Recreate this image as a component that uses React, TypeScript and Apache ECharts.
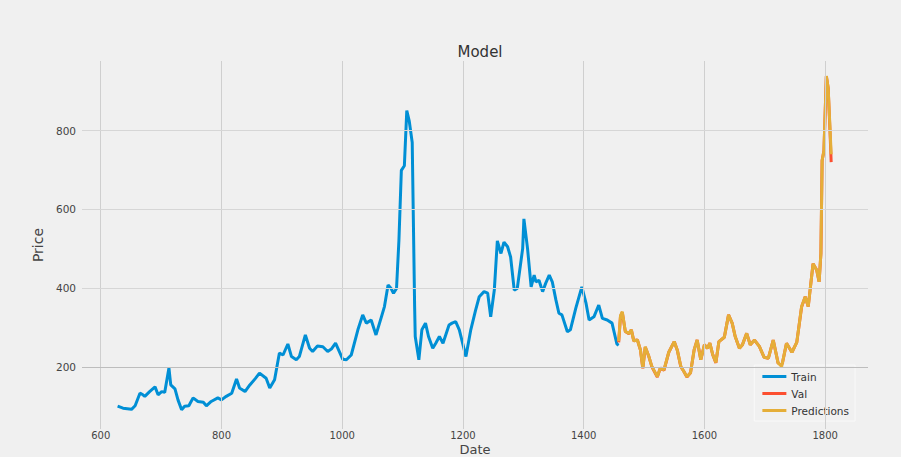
import React, { useEffect, useRef } from "react";
import * as echarts from "echarts";

const trainX = [628, 637, 651, 657, 665, 670, 673, 681, 690, 695, 701, 706, 713, 716, 723, 728, 734, 739, 746, 753, 761, 770, 775, 783, 794, 800, 808, 817, 825, 830, 839, 847, 856, 863, 874, 880, 888, 896, 902, 910, 916, 924, 929, 939, 946, 951, 959, 968, 976, 982, 989, 994, 1001, 1007, 1015, 1026, 1034, 1040, 1048, 1056, 1065, 1070, 1076, 1081, 1085, 1090, 1094, 1098, 1103, 1107, 1111, 1116, 1120, 1121, 1127, 1132, 1138, 1143, 1150, 1155, 1161, 1167, 1177, 1182, 1188, 1194, 1205, 1213, 1221, 1227, 1235, 1241, 1246, 1252, 1257, 1263, 1268, 1274, 1279, 1285, 1290, 1299, 1301, 1307, 1313, 1318, 1321, 1326, 1332, 1337, 1343, 1348, 1354, 1359, 1364, 1373, 1378, 1387, 1397, 1404, 1409, 1417, 1425, 1431, 1439, 1447, 1455, 1458];
const trainY = [100, 95, 92, 101, 133, 129, 125, 137, 149, 129, 137, 135, 197, 154, 144, 116, 91, 100, 101, 121, 112, 110, 101, 112, 121, 116, 125, 133, 169, 146, 137, 154, 170, 184, 171, 146, 167, 235, 230, 258, 226, 218, 226, 281, 247, 239, 253, 251, 239, 245, 260, 243, 219, 218, 230, 294, 332, 311, 319, 281, 327, 353, 408, 399, 387, 399, 522, 699, 711, 851, 825, 770, 353, 277, 218, 294, 311, 277, 247, 260, 277, 260, 306, 311, 315, 294, 226, 294, 344, 378, 391, 387, 327, 395, 520, 488, 517, 505, 479, 395, 399, 501, 576, 501, 403, 433, 416, 420, 391, 412, 433, 416, 370, 336, 332, 289, 294, 349, 403, 361, 319, 327, 357, 323, 319, 311, 258, 255];

const validX = [1458, 1461, 1464, 1469, 1475, 1479, 1483, 1489, 1494, 1498, 1502, 1508, 1513, 1522, 1527, 1533, 1541, 1550, 1555, 1561, 1566, 1571, 1577, 1583, 1588, 1594, 1600, 1605, 1609, 1614, 1619, 1624, 1633, 1640, 1646, 1651, 1658, 1663, 1670, 1676, 1683, 1691, 1699, 1706, 1714, 1722, 1728, 1736, 1745, 1753, 1761, 1767, 1772, 1780, 1786, 1790, 1793, 1795, 1798, 1802, 1805, 1808, 1810];
const valY = [262, 328, 338, 290, 284, 294, 266, 268, 243, 196, 250, 226, 200, 174, 197, 191, 237, 264, 243, 200, 188, 174, 185, 243, 268, 218, 256, 247, 260, 230, 210, 264, 275, 332, 311, 277, 247, 256, 285, 256, 268, 252, 224, 222, 268, 210, 200, 260, 237, 262, 352, 378, 353, 462, 446, 416, 488, 724, 749, 938, 908, 800, 720];
const predY = [265, 330, 340, 290, 285, 294, 266, 268, 243, 197, 251, 226, 201, 175, 197, 192, 237, 264, 243, 201, 188, 175, 185, 243, 268, 218, 256, 247, 260, 230, 211, 264, 275, 332, 311, 277, 247, 256, 285, 256, 268, 252, 224, 222, 268, 210, 201, 260, 237, 262, 353, 378, 353, 462, 446, 416, 488, 724, 749, 939, 910, 808, 740];

const xTicks = [600, 800, 1000, 1200, 1400, 1600, 1800];
const yTicks = [200, 400, 600, 800];
const xRange = [569, 1871];
const yRange = [42, 977];

const FONT = "DejaVu Sans";
const TEXT = "#444444";

export default function App() {
  const ref = useRef<HTMLDivElement>(null);
  useEffect(() => {
    document.body.style.margin = "0";
    const chart = echarts.init(ref.current!, null, { renderer: "svg" });
    const gridLines = [
      ...xTicks.map((v) => ({ xAxis: v, lineStyle: { color: "#cfcfcf" } })),
      ...yTicks.map((v) => ({ yAxis: v, lineStyle: { color: v === 200 ? "#bdbdbd" : "#d6d6d6" } })),
    ];
    const toPairs = (xs: number[], ys: number[]) => xs.map((x, i) => [x, ys[i]]);
    chart.setOption({
      animation: false,
      backgroundColor: "#f0f0f0",
      textStyle: { fontFamily: FONT },
      title: {
        text: "Model",
        left: 475,
        textAlign: "center",
        top: 39,
        textStyle: { fontFamily: FONT, fontSize: 15, fontWeight: "normal", color: "#333" },
      },
      grid: { left: 82, right: 33, top: 61, bottom: 28, outerBoundsMode: "none", containLabel: false },
      legend: {
        data: ["Train", "Val", "Predictions"],
        orient: "vertical",
        right: 46,
        bottom: 36,
        icon: "rect",
        itemWidth: 24,
        itemHeight: 3,
        itemGap: 6,
        padding: [6, 6, 5, 8],
        backgroundColor: "#f0f0f0",
        borderColor: "#f9f9f9",
        borderWidth: 1,
        textStyle: { fontFamily: FONT, fontSize: 10.5, color: "#333" },
      },
      xAxis: {
        type: "value",
        min: xRange[0],
        max: xRange[1],
        name: "Date",
        nameLocation: "middle",
        nameGap: 13,
        nameMoveOverlap: false,
        nameTextStyle: { fontFamily: FONT, fontSize: 13, color: TEXT, lineHeight: 14 },
        axisLine: { show: false },
        axisTick: { show: false },
        splitLine: { show: false },
        axisLabel: {
          customValues: xTicks,
          fontFamily: FONT,
          fontSize: 10,
          lineHeight: 11,
          color: TEXT,
          margin: 1,
          formatter: (v: number) => String(v),
        },
      },
      yAxis: {
        type: "value",
        min: yRange[0],
        max: yRange[1],
        name: "Price",
        nameLocation: "middle",
        nameGap: 37,
        nameMoveOverlap: false,
        nameTextStyle: { fontFamily: FONT, fontSize: 14, color: TEXT },
        axisLine: { show: false },
        axisTick: { show: false },
        splitLine: { show: false },
        axisLabel: {
          customValues: yTicks,
          fontFamily: FONT,
          fontSize: 10.5,
          color: TEXT,
          margin: 6,
          formatter: (v: number) => String(v),
        },
      },
      series: [
        {
          name: "grid",
          type: "line",
          data: [],
          z: 0,
          silent: true,
          markLine: {
            silent: true,
            symbol: "none",
            label: { show: false },
            lineStyle: { type: "solid", width: 1 },
            data: gridLines,
          },
        },
        {
          name: "Train",
          type: "line",
          data: toPairs(trainX, trainY),
          showSymbol: false,
          z: 2,
          itemStyle: { color: "#008fd5" },
          lineStyle: { color: "#008fd5", width: 3 },
        },
        {
          name: "Val",
          type: "line",
          data: toPairs(validX, valY),
          showSymbol: false,
          z: 3,
          itemStyle: { color: "#fc4f30" },
          lineStyle: { color: "#fc4f30", width: 3 },
        },
        {
          name: "Predictions",
          type: "line",
          data: toPairs(validX, predY),
          showSymbol: false,
          z: 4,
          itemStyle: { color: "#e5ae38" },
          lineStyle: { color: "#e5ae38", width: 3 },
        },
      ],
    });
    return () => chart.dispose();
  }, []);
  return <div ref={ref} style={{ width: 901, height: 457 }} />;
}
